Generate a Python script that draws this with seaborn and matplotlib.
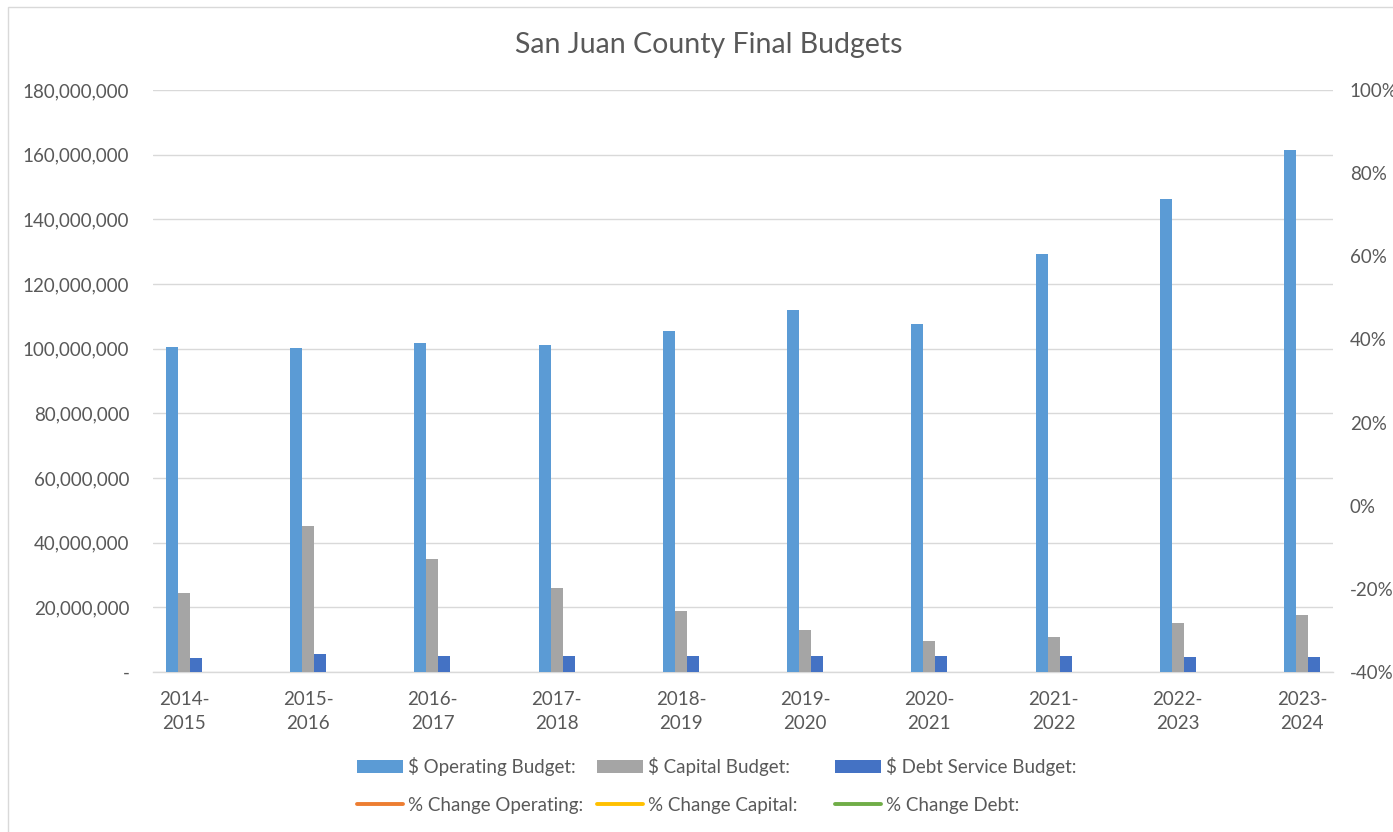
import matplotlib
matplotlib.use("Agg")
import matplotlib.pyplot as plt
from matplotlib.patches import Rectangle, Patch
from matplotlib.lines import Line2D
from matplotlib.ticker import FuncFormatter, MultipleLocator
import numpy as np
import pandas as pd
import seaborn as sns

# ---------------- data ----------------
years = ["2014-\n2015", "2015-\n2016", "2016-\n2017", "2017-\n2018", "2018-\n2019",
         "2019-\n2020", "2020-\n2021", "2021-\n2022", "2022-\n2023", "2023-\n2024"]
operating = [100.4e6, 100.1e6, 101.8e6, 101.0e6, 105.5e6, 111.9e6, 107.7e6, 129.2e6, 146.2e6, 161.3e6]
capital = [24.3e6, 45.1e6, 34.8e6, 25.9e6, 18.9e6, 13.0e6, 9.7e6, 10.8e6, 15.2e6, 17.6e6]
debt = [4.2e6, 5.5e6, 5.1e6, 5.0e6, 5.1e6, 5.1e6, 5.1e6, 5.1e6, 4.7e6, 4.7e6]
# % change series show no visible points in the chart
pct_operating = [np.nan] * 10
pct_capital = [np.nan] * 10
pct_debt = [np.nan] * 10

bar_labels = ["$ Operating Budget:", "$ Capital Budget:", "$ Debt Service Budget:"]
line_labels = ["% Change Operating:", "% Change Capital:", "% Change Debt:"]
bar_colors = ["#5B9BD5", "#A5A5A5", "#4472C4"]
line_colors = ["#ED7D31", "#FFC000", "#70AD47"]
title = "San Juan County Final Budgets"

# ---------------- style ----------------
sns.set_theme(style="white")
plt.rcParams["font.family"] = ["Lato", "DejaVu Sans"]
TXT = "#595959"
GRID = "#D9D9D9"

W, H = 1393, 832
fig = plt.figure(figsize=(W / 100, H / 100), dpi=100)
ax = fig.add_axes([153 / W, 1 - 672 / H, (1333 - 153) / W, (672 - 90) / H])

df = pd.DataFrame({
    "year": years * 3,
    "value": operating + capital + debt,
    "series": [bar_labels[0]] * 10 + [bar_labels[1]] * 10 + [bar_labels[2]] * 10,
})
sns.barplot(data=df, x="year", y="value", hue="series", hue_order=bar_labels,
            palette=bar_colors, width=0.29, saturation=1, legend=False,
            linewidth=0, ax=ax, zorder=3)

ax.set_xlim(-0.25, 9.25)
ax.set_ylim(0, 180e6)
ax.yaxis.set_major_locator(MultipleLocator(20e6))
ax.yaxis.set_major_formatter(FuncFormatter(lambda v, p: "-" if abs(v) < 1 else f"{v:,.0f}"))
ax.grid(axis="y", color=GRID, linewidth=1.0, zorder=0)
ax.set_axisbelow(True)
for s in ["top", "right", "left"]:
    ax.spines[s].set_visible(False)
ax.spines["bottom"].set_color(GRID)
ax.spines["bottom"].set_linewidth(1.0)
ax.set_xlabel("")
ax.set_ylabel("")
ax.tick_params(axis="y", length=0, pad=17, labelsize=13.5, labelcolor=TXT)
ax.tick_params(axis="x", length=0, pad=14, labelsize=13.5, labelcolor=TXT)
for t in ax.get_xticklabels():
    t.set_linespacing(1.5)

# secondary axis
ax2 = ax.twinx()
xs = np.arange(len(years))
for vals, c in zip([pct_operating, pct_capital, pct_debt], line_colors):
    ax2.plot(xs, vals, color=c, linewidth=2.8)
ax2.set_ylim(-0.4, 1.0)
ax2.yaxis.set_major_locator(MultipleLocator(0.2))
ax2.yaxis.set_major_formatter(FuncFormatter(lambda v, p: f"{round(v * 100):.0f}%"))
ax2.tick_params(axis="y", length=0, pad=12, labelsize=13.5, labelcolor=TXT)
for s in ["top", "right", "left", "bottom"]:
    ax2.spines[s].set_visible(False)
ax2.grid(False)

# title
fig.text(709 / W, 1 - 45 / H, title, ha="center", va="center", fontsize=20.5, color=TXT)

# legend: three columns, each bar entry above its line entry
col_x = [357, 597, 835]
for i in range(3):
    handles = [Patch(facecolor=bar_colors[i], edgecolor="none"),
               Line2D([0], [0], color=line_colors[i], linewidth=2.8)]
    leg = fig.legend(handles, [bar_labels[i], line_labels[i]], loc="upper left",
                     bbox_to_anchor=(col_x[i] / W, 1 - 757 / H), frameon=False,
                     fontsize=13.5, handlelength=2.45, handletextpad=0.25,
                     labelspacing=1.1, borderpad=0, borderaxespad=0)
    for t in leg.get_texts():
        t.set_color(TXT)

# chart border
fig.patches.append(Rectangle((8 / W, -0.01), 1.02, 1 - 7 / H + 0.01, transform=fig.transFigure,
                             fill=False, edgecolor=GRID, linewidth=1.0))

fig.savefig("out.png", dpi=100)
